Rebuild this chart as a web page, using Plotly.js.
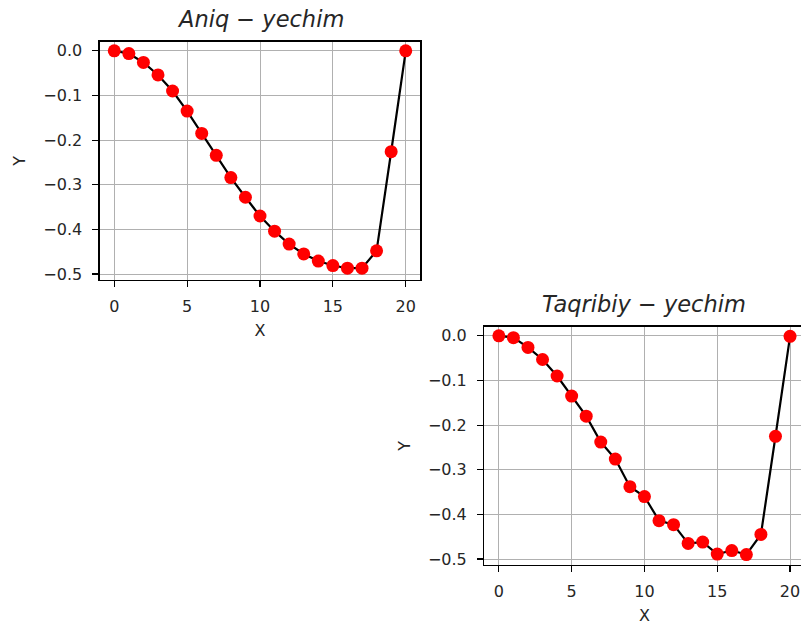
<!DOCTYPE html>
<html><head><meta charset="utf-8">
<script src="https://cdn.plot.ly/plotly-3.0.1.min.js"></script>
<style>html,body{margin:0;padding:0;overflow:hidden;background:#fff}</style>
</head><body><div id="chart" style="width:810px;height:625px"></div>
<script>
const xValues = [0,1,2,3,4,5,6,7,8,9,10,11,12,13,14,15,16,17,18,19,20];
const exactY = [0,-0.006,-0.026,-0.054,-0.090,-0.135,-0.185,-0.234,-0.284,-0.328,-0.370,-0.404,-0.433,-0.455,-0.471,-0.481,-0.487,-0.487,-0.448,-0.226,0];
const approxY = [0,-0.004,-0.026,-0.053,-0.090,-0.135,-0.180,-0.238,-0.276,-0.338,-0.360,-0.414,-0.423,-0.465,-0.462,-0.489,-0.481,-0.490,-0.445,-0.225,-0.001];
const plotTitles = ['Aniq − yechim', 'Taqribiy − yechim'];
const xTickVals = [0,5,10,15,20];
const yTickVals = [0,-0.1,-0.2,-0.3,-0.4,-0.5];
const xLabel = 'X';
const yLabel = 'Y';

const W = 810, H = 625;
const font = {family: 'DejaVu Sans', size: 16, color: '#262626'};

function axisX(domPx, anchor){
  return {domain:[domPx[0]/W, domPx[1]/W], anchor:anchor, range:[-1,21],
    tickvals:xTickVals, ticks:'outside', ticklen:6, tickwidth:1.2, tickcolor:'#000',
    showline:true, mirror:true, linecolor:'#000', linewidth:1.3,
    showgrid:true, gridcolor:'#b0b0b0', gridwidth:1, zeroline:false,
    tickfont:font, ticklabelstandoff:5,
    title:{text:xLabel, font:font, standoff:10}, automargin:false};
}
function axisY(domPx, anchor){
  return {domain:[1-domPx[1]/H, 1-domPx[0]/H], anchor:anchor, range:[-0.5134,0.0205],
    tickvals:yTickVals, tickformat:'.1f', ticks:'outside', ticklen:6, tickwidth:1.2, tickcolor:'#000',
    showline:true, mirror:true, linecolor:'#000', linewidth:1.3,
    showgrid:true, gridcolor:'#b0b0b0', gridwidth:1, zeroline:false,
    tickfont:font, ticklabelstandoff:7,
    title:{text:yLabel, font:font, standoff:13}, automargin:false};
}

const seriesStyle = {mode:'lines+markers', line:{color:'#000', width:2.2},
  marker:{color:'#ff0000', size:13, line:{width:0}}, cliponaxis:false, showlegend:false};

const traces = [
  Object.assign({x:xValues, y:exactY, xaxis:'x', yaxis:'y'}, seriesStyle),
  Object.assign({x:xValues, y:approxY, xaxis:'x2', yaxis:'y2'}, seriesStyle)
];

const topX = [99.7, 420.3], topY = [41.7, 280];
const botX = [484.3, 804.6], botY = [326.7, 565];
const titleFont = {family:'DejaVu Sans', size:22.5, color:'#262626'};

const layout = {
  width:W, height:H, margin:{l:0,r:0,t:0,b:0},
  paper_bgcolor:'#fff', plot_bgcolor:'#fff', font:font,
  xaxis:axisX(topX,'y'), yaxis:axisY(topY,'x'),
  xaxis2:axisX(botX,'y2'), yaxis2:axisY(botY,'x2'),
  annotations:[
    {text:'<i>'+plotTitles[0]+'</i>', xref:'paper', yref:'paper',
     x:(topX[0]+topX[1])/2/W, y:1-topY[0]/H, yshift:8, xanchor:'center', yanchor:'bottom',
     showarrow:false, font:titleFont},
    {text:'<i>'+plotTitles[1]+'</i>', xref:'paper', yref:'paper',
     x:(botX[0]+botX[1])/2/W, y:1-botY[0]/H, yshift:8, xanchor:'center', yanchor:'bottom',
     showarrow:false, font:titleFont}
  ]
};
Plotly.newPlot('chart', traces, layout, {staticPlot:true, displayModeBar:false});
</script></body></html>
